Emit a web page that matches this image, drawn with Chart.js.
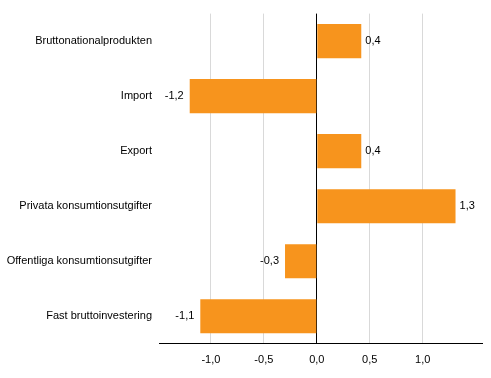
<!DOCTYPE html>
<html>
<head>
<meta charset="utf-8">
<script src="https://cdn.jsdelivr.net/npm/chart.js@4/dist/chart.umd.min.js"></script>
<style>
  html, body { margin: 0; padding: 0; background: #fff; }
  #wrap { width: 491px; height: 378px; }
</style>
</head>
<body>
<div id="wrap"><canvas id="chart" width="491" height="378"></canvas></div>
<script>
// categories, top to bottom
let categories = [
    'Bruttonationalprodukten',
    'Import',
    'Export',
    'Privata konsumtionsutgifter',
    'Offentliga konsumtionsutgifter',
    'Fast bruttoinvestering'
]

// change, percentage points
let values = [0.42, -1.2, 0.42, 1.31, -0.3, -1.1]

// shown next to the bars
let valueLabels = ['0,4', '-1,2', '0,4', '1,3', '-0,3', '-1,1']

// x axis tick values
let xTicks = [-1.0, -0.5, 0.0, 0.5, 1.0]

let fmt = function(v) {
    return v.toFixed(1).replace('.', ',')
}

// draw the value labels beside each bar
let barLabels = {
    id: 'barLabels',
    afterDatasetsDraw(chart) {
        let ctx = chart.ctx
        let meta = chart.getDatasetMeta(0)
        ctx.save()
        ctx.font = '11px "Liberation Sans", Arial, sans-serif'
        ctx.fillStyle = '#000'
        ctx.textBaseline = 'middle'
        meta.data.forEach(function(bar, i) {
            if (values[i] >= 0) {
                ctx.textAlign = 'left'
                ctx.fillText(valueLabels[i], bar.x + 4, bar.y)
            } else {
                ctx.textAlign = 'right'
                ctx.fillText(valueLabels[i], bar.x - 6, bar.y)
            }
        })
        ctx.restore()
    }
}

Chart.defaults.font.family = '"Liberation Sans", Arial, sans-serif'
Chart.defaults.font.size = 11
Chart.defaults.color = '#000'

var ctx = document.getElementById('chart')
var chart = new Chart(ctx, {
    type: 'bar',
    data: {
        labels: categories,
        datasets: [{
            data: values,
            backgroundColor: '#f7941d',
            borderWidth: 0,
            barPercentage: 0.62,
            categoryPercentage: 1.0
        }]
    },
    options: {
        indexAxis: 'y',
        responsive: false,
        animation: false,
        layout: {
            padding: { top: 5, right: 9, bottom: 1, left: 0 }
        },
        plugins: {
            legend: { display: false },
            tooltip: { enabled: false }
        },
        scales: {
            x: {
                min: -1.49,
                max: 1.56,
                afterBuildTicks: function(scale) {
                    scale.ticks = xTicks.map(function(v) { return { value: v } })
                },
                ticks: {
                    padding: 10,
                    callback: function(v) { return fmt(v) }
                },
                grid: {
                    drawTicks: false,
                    color: function(c) {
                        return c.tick && c.tick.value === 0 ? '#000' : '#d9d9d9'
                    },
                    lineWidth: 1
                },
                border: { display: true, color: '#000', width: 1 }
            },
            y: {
                afterFit: function(scale) { scale.width = 159 },
                ticks: { padding: 7 },
                grid: { display: false, drawTicks: false },
                border: { display: false }
            }
        }
    },
    plugins: [barLabels]
})
</script>
</body>
</html>
